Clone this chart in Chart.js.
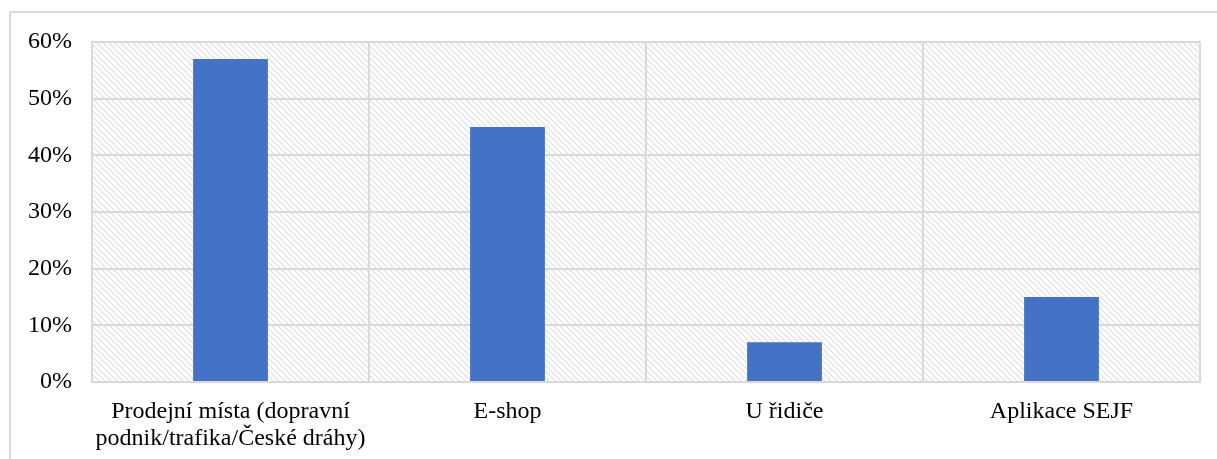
<!DOCTYPE html>
<html>
<head>
<meta charset="utf-8">
<script src="https://cdn.jsdelivr.net/npm/chart.js@4"></script>
<style>
  html, body { margin: 0; padding: 0; background: #fff; }
  #wrap { position: relative; width: 1217px; height: 459px; }
</style>
</head>
<body>
<div id="wrap"><canvas id="sales-chart" width="1217" height="459"></canvas></div>
<script>
var categories = [
  ["Prodejní místa (dopravní", "podnik/trafika/České dráhy)"],
  "E-shop",
  "U řidiče",
  "Aplikace SEJF"
];
var shares = [57, 45, 7, 15];
var yTicks = [0, 10, 20, 30, 40, 50, 60];

// diagonal hatch for the plot background
function makeHatch() {
  var c = document.createElement("canvas");
  c.width = 6;
  c.height = 6;
  var g = c.getContext("2d");
  g.strokeStyle = "#dedede";
  g.lineWidth = 1.2;
  g.beginPath();
  g.moveTo(-1, -1); g.lineTo(7, 7);
  g.moveTo(-1, 5); g.lineTo(1, 7);
  g.moveTo(5, -1); g.lineTo(7, 1);
  g.stroke();
  return c;
}

var backdrop = {
  id: "backdrop",
  beforeDraw: function (chart) {
    var ctx = chart.ctx;
    var a = chart.chartArea;
    ctx.save();
    // outer frame
    ctx.strokeStyle = "#d9d9d9";
    ctx.lineWidth = 2;
    ctx.strokeRect(10, 12, 1230, 470);
    ctx.fillStyle = ctx.createPattern(makeHatch(), "repeat");
    ctx.fillRect(a.left, a.top, a.right - a.left, a.bottom - a.top);
    ctx.restore();
  }
};

var ctx = document.getElementById("sales-chart");
window.myChart = new Chart(ctx, {
  type: "bar",
  data: {
    labels: categories,
    datasets: [
      {
        data: shares,
        backgroundColor: "#4472C4",
        borderWidth: 0,
        categoryPercentage: 1,
        barPercentage: 0.27,
      },
    ],
  },
  options: {
    responsive: false,
    animation: false,
    layout: { padding: { top: 42, right: 17, left: 0, bottom: 0 } },
    plugins: {
      legend: { display: false },
      tooltip: { enabled: false },
    },
    scales: {
      x: {
        grid: { color: "#d9d9d9", lineWidth: 2, drawTicks: false, offset: true },
        border: { color: "#d9d9d9", width: 2 },
        ticks: {
          color: "#000",
          padding: 17,
          maxRotation: 0,
          autoSkip: false,
          font: { family: "Liberation Serif", size: 24, lineHeight: 1.1 },
        },
        afterFit: function (s) { s.height = 77; },
      },
      y: {
        min: 0,
        max: 60,
        afterBuildTicks: function (s) {
          s.ticks = yTicks.map(function (v) { return { value: v }; });
        },
        grid: { color: "#d9d9d9", lineWidth: 2, drawTicks: false },
        border: { color: "#d9d9d9", width: 2 },
        ticks: {
          color: "#000",
          padding: 20,
          font: { family: "Liberation Serif", size: 24 },
          callback: function (v) { return v + "%"; },
        },
        afterFit: function (s) { s.width = 92; },
      },
    },
  },
  plugins: [backdrop],
});
</script>
</body>
</html>
